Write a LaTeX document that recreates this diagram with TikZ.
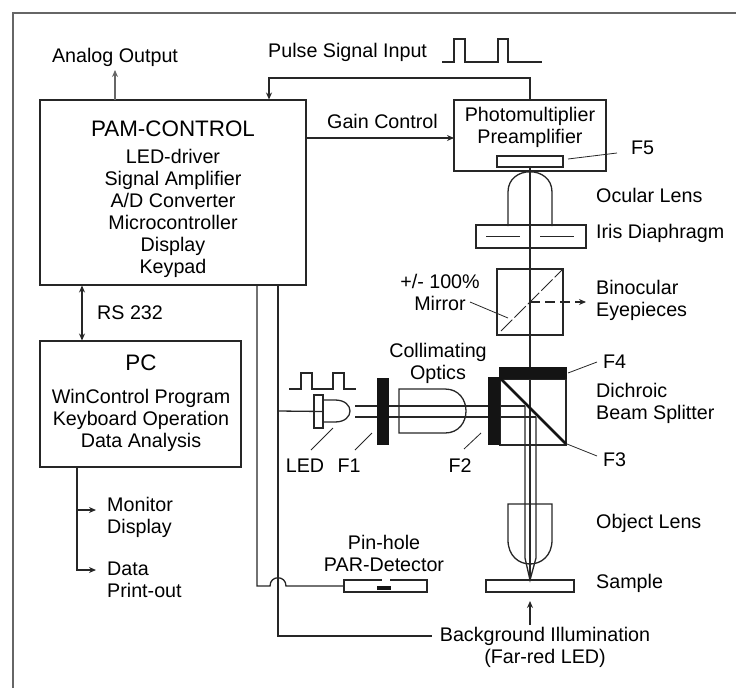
\documentclass[tikz,border=0pt]{standalone}
\usepackage{fontspec}
\setmainfont{Liberation Sans}
\usetikzlibrary{arrows.meta}
\tikzset{
  box/.style={draw=black!85,line width=1.3pt,inner sep=0pt,outer sep=0pt},
  lbl/.style={inner sep=0pt,align=center,font=\fontsize{19.7}{22}\selectfont},
  lbll/.style={lbl,align=left},
  big/.style={lbl,font=\fontsize{22.4}{26}\selectfont},
  wire/.style={line width=1.3pt,draw=black!85},
  leader/.style={line width=0.8pt,draw=black!85},
  filt/.style={fill=black!92,draw=none}
}
\begin{document}
\begin{tikzpicture}[x=1pt,y=-1pt,>={Stealth[length=7pt,width=6pt]}]
        \useasboundingbox (0,0) rectangle (736,688);
        \draw [line width=1.1pt,black!60] (13,688)--(13,13)--(736,13);
        \node [box,minimum width=266pt,minimum height=185pt] (pam) at (173,192.5) {};
        \node [box,minimum width=201pt,minimum height=126pt] (pc) at (140.5,404) {};
        \node [box,minimum width=152pt,minimum height=71pt] (pmt) at (530,135.5) {};
        \node [box,minimum width=66pt,minimum height=11pt] (ffive) at (530,161.5) {};
        \node [box,minimum width=110pt,minimum height=23pt] (iris) at (531,236.5) {};
        \node [box,minimum width=66pt,minimum height=66pt] (mirror) at (530,302) {};
        \node [box,minimum width=66pt,minimum height=66pt] (split) at (533,412) {};
        \node [box,minimum width=88pt,minimum height=12pt] (sample) at (530,586) {};
        \node [box,minimum width=83pt,minimum height=12pt] (detector) at (385.5,586) {};
        \node [box,minimum width=9pt,minimum height=33pt] (ledbase) at (318.5,411.5) {};

        \node [big] (pamtitle) at (173,129) {PAM-CONTROL};
        \node [lbl] (pamtext) at (173,213) {LED-driver\\Signal Amplifier\\A/D Converter\\Microcontroller\\Display\\Keypad};
        \node [big] (pctitle) at (141,363) {PC};
        \node [lbl] (pctext) at (141,420) {WinControl Program\\Keyboard Operation\\Data Analysis};
        \node [lbl] (pmttext) at (530,127) {Photomultiplier\\Preamplifier};
        \node [lbl] (analog) at (115,57) {Analog Output};
        \node [lbl,anchor=west] (pulse) at (268,52) {Pulse Signal Input};
        \node [lbl] (gain) at (382.5,121) {Gain Control};
        \node [lbl,anchor=west] (rs) at (97,313) {RS 232};
        \node [lbll,anchor=west] (monitor) at (107,517.5) {Monitor\\Display};
        \node [lbll,anchor=west] (data) at (107,579.5) {Data\\Print-out};
        \node [lbl] (mirrortext) at (440,292) {+/- 100\%\\Mirror};
        \node [lbl] (colli) at (438,363.5) {Collimating\\Optics};
        \node [lbl] (led) at (305,466) {LED};
        \node [lbl] (fone) at (349,466) {F1};
        \node [lbl] (ftwo) at (460,466) {F2};
        \node [lbl,anchor=west] (ffour) at (603,362) {F4};
        \node [lbl,anchor=west] (fthree) at (603,460) {F3};
        \node [lbl,anchor=west] (ffivetext) at (631,148) {F5};
        \node [lbl,anchor=west] (ocular) at (596,195) {Ocular Lens};
        \node [lbl,anchor=west] (diaphragm) at (596,233) {Iris Diaphragm};
        \node [lbll,anchor=west] (binocular) at (596,300.5) {Binocular\\Eyepieces};
        \node [lbll,anchor=west] (dichroic) at (596,403) {Dichroic\\Beam Splitter};
        \node [lbl,anchor=west] (object) at (596,523) {Object Lens};
        \node [lbl,anchor=west] (sampletext) at (596,583) {Sample};
        \node [lbl] (pinhole) at (384,553) {Pin-hole\\PAR-Detector};
        \node [lbl] (background) at (545,647.5) {Background Illumination\\(Far-red LED)};

        \coordinate (anout) at (115,70);
        \coordinate (mondot) at (96,510);
        \coordinate (datadot) at (96,570);
        \coordinate (eyedot) at (586,302);
        \coordinate (bgtip) at (530,601);
        \coordinate (bgtail) at (530,625);
        \coordinate (bgend) at (432,636);

        \draw [wire,->,black!60] (pam.north -| anout) -- (anout);
        \draw [wire,line width=2.2pt] (pmt.north) -- (530,78) -- (268,78);
        \draw [wire,->] (269,78) -- (269,99.5);
        \draw [wire,->] (pam.east |- 0,138) -- (pmt.west |- 0,138);
        \draw [wire,<->] (82,285.5) -- (82,340.5);
        \draw [wire,->] (77,467) -- (77,570) -- (datadot);
        \draw [wire,->] (77,510) -- (mondot);
        \draw [wire,->] (bgtail) -- (bgtip);

        \draw [wire] (278,285) -- (278,636) -- (bgend);
        \draw [wire] (278,411) -- (ledbase.east);
        \draw [wire] (257,285) -- (257,586) -- (270,586) .. controls (270,575) and (286,575) .. (286,586) -- (detector.west);
        \draw [white,line width=1.8pt] (382,580) -- (390,580);
        \fill [black!92] (377,586) rectangle (391,589.5);

        \draw [wire] (ffive.south) -- (sample.north);
        \draw [wire] (525,406) -- (525,558) -- (530,580) -- (536,558) -- (536,417);
        \draw [wire] (355,406) -- (525,406) (355,417) -- (536,417);
        \draw [wire] (323,400) -- (335,400) .. controls (355,400) and (355,422) .. (335,422) -- (323,422);
        \draw [wire] (399,389) -- (445,389) .. controls (473,389) and (473,433) .. (445,433) -- (399,433) -- cycle;
        \draw [wire] (508,226) -- (508,192) .. controls (508,165) and (552,165) .. (552,192) -- (552,226);
        \draw [wire] (508,504) -- (552,504) -- (552,540) .. controls (552,572) and (508,572) .. (508,540) -- cycle;
        \draw [wire] (486,236.5) -- (520,236.5) (540,236.5) -- (574,236.5);

        \draw [wire,dash pattern=on 16pt off 3pt,line width=1pt] (501,331) -- (563,269);
        \draw [wire,dash pattern=on 10pt off 5pt,->,line width=1.4pt] (530,302) -- (eyedot);

        \fill [filt] (377,378) rectangle (389,445);
        \fill [filt] (488,377) rectangle (500,445);
        \fill [filt] (499,367) rectangle (567,379);
        \draw [line width=2.8pt,black!92] (500,378) -- (566,444);

        \draw [wire] (442,62) -- (454,62) -- (454,39) -- (465,39) -- (465,62) -- (498,62) -- (498,39) -- (508,39) -- (508,62) -- (542,62);
        \draw [wire] (289,389) -- (301,389) -- (301,373) -- (312,373) -- (312,389) -- (333,389) -- (333,373) -- (344,373) -- (344,389) -- (356,389);

        \draw [leader] (568,159) -- (617,153);
        \draw [leader] (470,302) -- (508,318);
        \draw [leader] (333,428) -- (311,450);
        \draw [leader] (372,433) -- (355,450);
        \draw [leader] (481,433) -- (464,449);
        \draw [leader] (568,373) -- (597,362);
        \draw [leader] (567,444) -- (597,456);
    \end{tikzpicture}
\end{document}
